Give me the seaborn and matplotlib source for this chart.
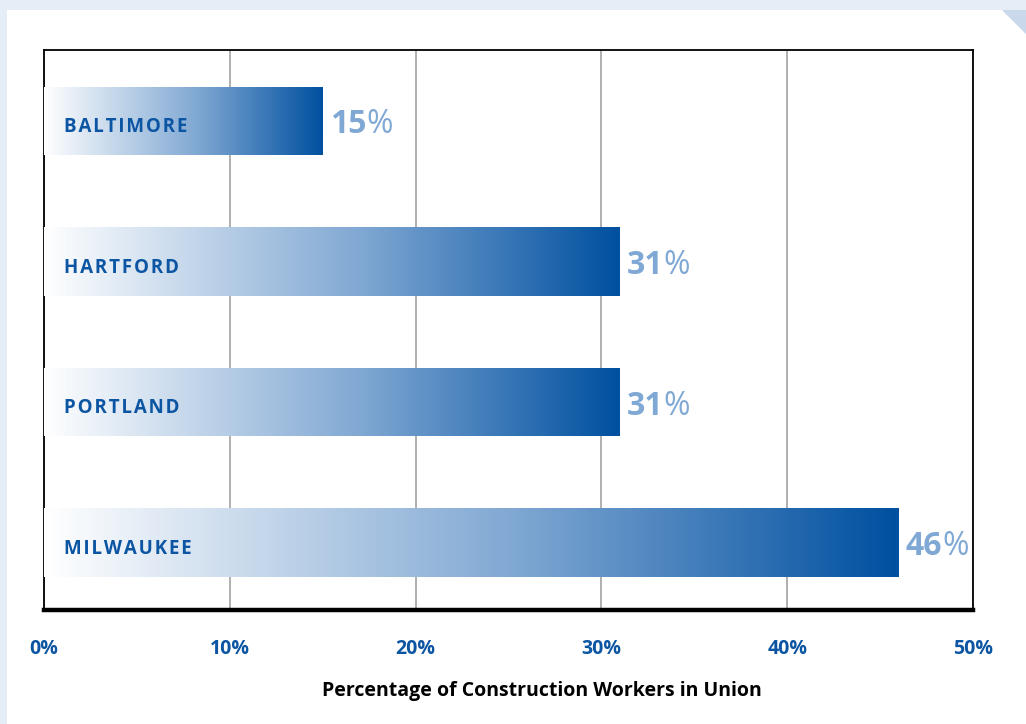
import numpy as np
import pandas as pd
import matplotlib
matplotlib.use('Agg')
import matplotlib.pyplot as plt
import seaborn as sns
from matplotlib.colors import LinearSegmentedColormap
from matplotlib.patches import Polygon

cities = ['BALTIMORE', 'HARTFORD', 'PORTLAND', 'MILWAUKEE']
pct = [15, 31, 31, 46]
xticks = [0, 10, 20, 30, 40, 50]
xlabel = 'Percentage of Construction Workers in Union'

df = pd.DataFrame({'city': cities, 'pct': pct})

sns.set_style('white')
plt.rcParams['font.family'] = ['Open Sans', 'DejaVu Sans']

dark = '#0b55a3'
light = '#80a8d4'
grad = LinearSegmentedColormap.from_list('g', [(0, '#ffffff'), (0.55, '#80a8d3'), (1, '#0050a0')])

fig = plt.figure(figsize=(10.26, 7.24), dpi=100)
fig.patch.set_facecolor('#e5edf6')
W, H = 1026, 724
# white panel with folded corner
fig.patches.append(Polygon([(7 / W, 1 - 10 / H), (1002 / W, 1 - 10 / H), (1 , 1 - 34 / H), (1, 0), (7 / W, 0)],
                           closed=True, transform=fig.transFigure, facecolor='white', edgecolor='none', zorder=-10))
fig.patches.append(Polygon([(1002 / W, 1 - 10 / H), (1, 1 - 10 / H), (1, 1 - 34 / H)],
                           closed=True, transform=fig.transFigure, facecolor='#c9d9eb', edgecolor='none', zorder=-10))

ax = fig.add_axes([44 / W, 1 - 610 / H, (973 - 44) / W, (610 - 50) / H])
ax.set_facecolor('white')

sns.barplot(data=df, x='pct', y='city', orient='h', width=0.485, color='#0050a0',
            linewidth=0, ax=ax, zorder=3)

gx = np.linspace(0, 1, 256).reshape(1, -1)
for p in ax.patches:
    x0, y0 = p.get_x(), p.get_y()
    w, h = p.get_width(), p.get_height()
    im = ax.imshow(gx, cmap=grad, extent=(x0, x0 + w, y0 + h, y0), aspect='auto', zorder=4, interpolation='bilinear')
    im.set_clip_path(p)
    p.set_facecolor('none')
    p.set_edgecolor('none')

ax.set_xlim(0, 50)
ax.set_ylim(3.48, -0.505)

for i, (c, v) in enumerate(zip(cities, pct)):
    ax.annotate('\u200a'.join(c), xy=(0, i), xytext=(14.5, -4.6), textcoords='offset points',
                ha='left', va='center', fontsize=13.5, fontweight='bold', color=dark, zorder=6)
    t = ax.annotate(str(v), xy=(v, i), xytext=(5, 0), textcoords='offset points',
                    ha='left', va='center_baseline', fontsize=23, fontweight='bold', color=light, zorder=6)
    ax.annotate('%', xy=(1, 0), xycoords=t, ha='left', va='bottom', fontsize=23,
                color=light, zorder=6)

ax.set_xticks(xticks)
ax.set_xticklabels([f'{x}%' for x in xticks])
ax.tick_params(axis='x', length=0, pad=21, labelsize=14, labelcolor=dark)
for lab in ax.get_xticklabels():
    lab.set_fontweight('bold')
ax.set_yticks([])
ax.set_ylabel('')
ax.set_xlabel(xlabel, fontsize=14, fontweight='bold', color='black')
ax.xaxis.set_label_coords((542 - 44) / (973 - 44), -(691 - 610) / (610 - 50), transform=ax.transAxes)
ax.xaxis.label.set_va('center')

ax.grid(axis='x', color='#9a9a9a', linewidth=1.1, zorder=1)
ax.set_axisbelow(True)

for s in ['left', 'top', 'right']:
    ax.spines[s].set_visible(True)
    ax.spines[s].set_color('black')
    ax.spines[s].set_linewidth(1.3)
ax.spines['bottom'].set_color('black')
ax.spines['bottom'].set_linewidth(3.2)

fig.savefig('out.png', dpi=100, facecolor=fig.get_facecolor())
